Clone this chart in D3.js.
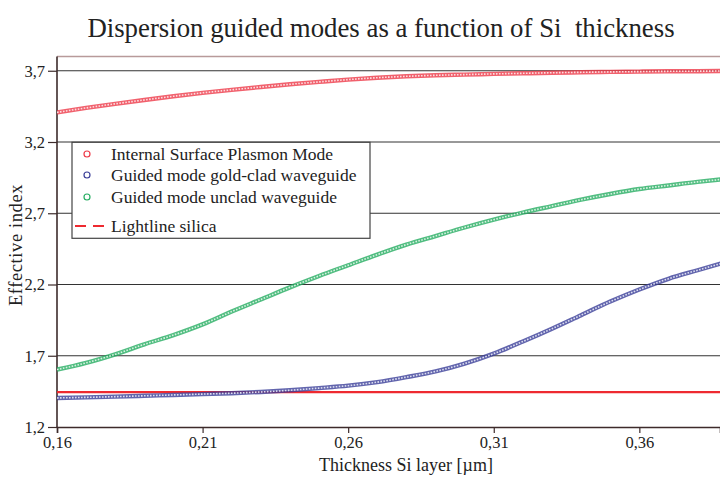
<!doctype html>
<html>
<head>
<meta charset="UTF-8">
<title>Dispersion guided modes</title>
<script src="https://cdn.jsdelivr.net/npm/d3@7"></script>
<style>
  body { margin: 0; background: #fff; }
  svg text { font-family: "Liberation Serif", "DejaVu Serif", serif; fill: #222; }
</style>
</head>
<body>
<svg id="chart" width="720" height="477"></svg>
<script>
    // thickness of the Si layer (um), shared by the three curves
    var thickness = [0.16, 0.17, 0.18, 0.19, 0.20, 0.21, 0.22, 0.23, 0.24, 0.25, 0.26, 0.27,
        0.28, 0.29, 0.30, 0.31, 0.32, 0.33, 0.34, 0.35, 0.36, 0.37, 0.38, 0.388];
    var plasmon = [3.408, 3.439, 3.468, 3.495, 3.521, 3.545, 3.566, 3.586, 3.605, 3.622, 3.638, 3.651,
        3.661, 3.668, 3.673, 3.678, 3.682, 3.686, 3.689, 3.692, 3.694, 3.696, 3.697, 3.698];
    var goldClad = [1.404, 1.408, 1.413, 1.419, 1.425, 1.431, 1.437, 1.446, 1.458, 1.473, 1.49, 1.515,
        1.55, 1.59, 1.645, 1.715, 1.80, 1.89, 1.985, 2.08, 2.165, 2.24, 2.30, 2.347];
    var unclad = [1.603, 1.65, 1.71, 1.78, 1.845, 1.92, 2.01, 2.095, 2.18, 2.26, 2.335, 2.41,
        2.48, 2.54, 2.60, 2.655, 2.705, 2.75, 2.795, 2.835, 2.87, 2.895, 2.92, 2.937];
    var lightline = 1.445;

    var xTicks = [0.16, 0.21, 0.26, 0.31, 0.36];
    var yTicks = [1.2, 1.7, 2.2, 2.7, 3.2, 3.7];
    var legendNames = ["Internal Surface Plasmon Mode", "Guided mode gold-clad waveguide",
        "Guided mode unclad waveguide", "Lightline silica"];

    var pLeft = 57, pRight = 720, pTop = 56.5, pBottom = 427;
    var svg = d3.select("#chart");

    var x = d3.scaleLinear().domain([0.16, 0.3877]).range([pLeft, pRight]);
    var y = d3.scaleLinear().domain([1.2, 3.8]).range([pBottom, pTop]);
    var fmt = function (d) { return d3.format(d < 1 ? ".2f" : ".1f")(d).replace(".", ","); };

    svg.append("text")
        .attr("x", 381).attr("y", 37)
        .attr("text-anchor", "middle")
        .attr("font-size", 26.8)
        .style("white-space", "pre")
        .text("Dispersion guided modes as a function of Si  thickness");

    // top frame line
    svg.append("line")
        .attr("x1", pLeft).attr("x2", pRight).attr("y1", pTop).attr("y2", pTop)
        .attr("stroke", "#b89a9a").attr("stroke-width", 1.5);

    // horizontal grid
    svg.append("g").selectAll("line").data(yTicks.slice(1)).enter().append("line")
        .attr("x1", pLeft).attr("x2", pRight)
        .attr("y1", function (d) { return y(d); }).attr("y2", function (d) { return y(d); })
        .attr("stroke", "#333").attr("stroke-width", 1);

    // axes
    var yAxis = svg.append("g").attr("transform", "translate(" + pLeft + ",0)")
        .call(d3.axisLeft(y).tickValues(yTicks).tickFormat(fmt).tickSize(9).tickPadding(3));
    var xAxis = svg.append("g").attr("transform", "translate(0," + pBottom + ")")
        .call(d3.axisBottom(x).tickValues(xTicks).tickFormat(fmt).tickSize(6).tickPadding(3));
    [yAxis, xAxis].forEach(function (a) {
        a.select(".domain").attr("stroke", "#3d2b2b").attr("stroke-width", 1.6);
        a.selectAll(".tick line").attr("stroke", "#3d2b2b").attr("stroke-width", 1.2);
        a.selectAll(".tick text").attr("font-size", 16.5).attr("fill", "#222")
            .attr("font-family", "Liberation Serif, serif");
    });
    yAxis.select(".domain").attr("d", "M0," + pTop + "V" + pBottom);

    svg.append("text")
        .attr("transform", "translate(22,245) rotate(-90)")
        .attr("text-anchor", "middle").attr("font-size", 18.5)
        .attr("letter-spacing", 0.6)
        .text("Effective index");
    svg.append("text")
        .attr("x", 406).attr("y", 471)
        .attr("text-anchor", "middle").attr("font-size", 18)
        .text("Thickness Si layer [\u00b5m]");

    // lightline
    svg.append("line")
        .attr("x1", x(0.16)).attr("x2", pRight)
        .attr("y1", y(lightline)).attr("y2", y(lightline))
        .attr("stroke", "#ee2a30").attr("stroke-width", 2.2);

    // curves drawn as chains of open markers
    var series = [
        { vals: plasmon, color: "#ee3a48", light: "#fcdde0" },
        { vals: goldClad, color: "#3b3f98", light: "#dcdef0" },
        { vals: unclad, color: "#26ad62", light: "#d6f2e0" }
    ];
    var line = d3.line().curve(d3.curveMonotoneX)
        .x(function (d) { return x(d[0]); })
        .y(function (d) { return y(d[1]); });
    svg.append("clipPath").attr("id", "plot").append("rect")
        .attr("x", pLeft).attr("y", pTop).attr("width", pRight - pLeft).attr("height", pBottom - pTop);
    series.forEach(function (s) {
        var pts = d3.zip(thickness, s.vals);
        var g = svg.append("g").attr("clip-path", "url(#plot)");
        g.append("path").attr("d", line(pts)).attr("fill", "none")
            .attr("stroke", s.color).attr("stroke-width", 4.4).attr("stroke-opacity", 0.8);
        g.append("path").attr("d", line(pts)).attr("fill", "none")
            .attr("stroke", s.light).attr("stroke-width", 1.6)
            .attr("stroke-dasharray", "1.6 1.4");
    });

    // legend
    var lg = svg.append("g");
    lg.append("rect").attr("x", 72).attr("y", 142.3).attr("width", 298).attr("height", 96)
        .attr("fill", "#fff").attr("stroke", "#444").attr("stroke-width", 1.2);
    var rowY = [154, 175, 197, 226];
    legendNames.forEach(function (name, i) {
        if (i < 3) {
            lg.append("circle").attr("cx", 87).attr("cy", rowY[i]).attr("r", 3)
                .attr("fill", "none").attr("stroke", series[i].color).attr("stroke-width", 1.2);
        } else {
            lg.append("line").attr("x1", 75).attr("x2", 104).attr("y1", rowY[i]).attr("y2", rowY[i])
                .attr("stroke", "#ee2a30").attr("stroke-width", 2.2).attr("stroke-dasharray", "11 7");
        }
        lg.append("text").attr("x", 111).attr("y", rowY[i] + 5.5)
            .attr("font-size", 17.5).text(name);
    });
</script>
</body>
</html>
